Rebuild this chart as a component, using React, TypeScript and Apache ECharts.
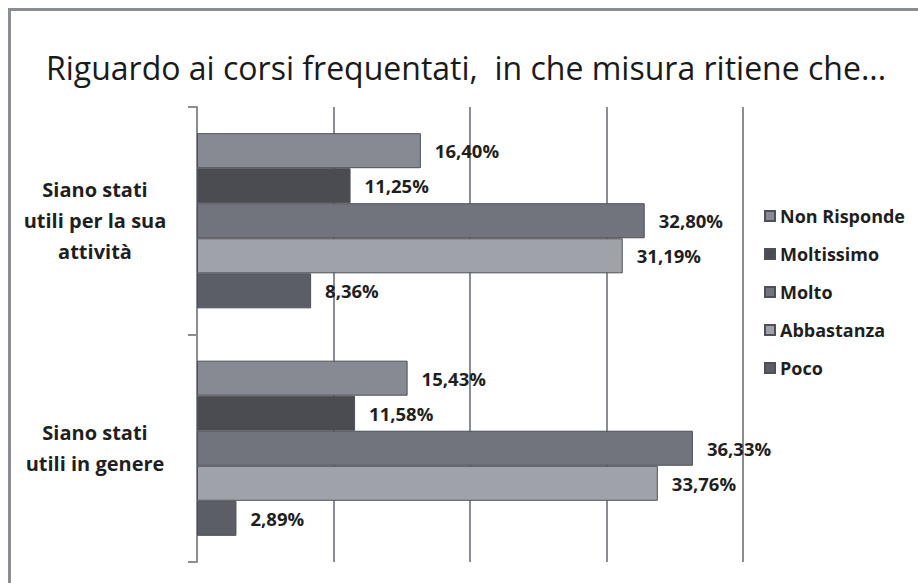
import React, { useEffect, useRef } from "react";
import * as echarts from "echarts";

const titleText = "Riguardo ai corsi frequentati,  in che misura ritiene che...";
const categories = [
  "Siano stati\nutili per la sua\nattività",
  "Siano stati\nutili in genere",
];
const seriesNames = ["Non Risponde", "Moltissimo", "Molto", "Abbastanza", "Poco"];
const nonRisponde = [16.4, 15.43];
const moltissimo = [11.25, 11.58];
const molto = [32.8, 36.33];
const abbastanza = [31.19, 33.76];
const poco = [8.36, 2.89];
const seriesValues = [nonRisponde, moltissimo, molto, abbastanza, poco];
const seriesColors = ["#878a93", "#4a4c51", "#72747d", "#a0a2a9", "#5b5e65"];

const FONT = "Open Sans";

export default function App() {
  const ref = useRef<HTMLDivElement>(null);
  useEffect(() => {
    document.body.style.margin = "0";
    const chart = echarts.init(ref.current!, null, { renderer: "svg" });
    const series = seriesNames.map((name, i) => ({
      name,
      type: "bar",
      data: seriesValues[i],
      barGap: "0%",
      barCategoryGap: "23%",
      itemStyle: { color: seriesColors[i], borderColor: "#4e5057", borderWidth: 1 },
      label: {
        show: true,
        position: "right",
        distance: 14,
        fontFamily: FONT,
        fontWeight: "bold",
        fontSize: 18.5,
        color: "#1f1f1f",
        formatter: (p: any) => p.value.toFixed(2).replace(".", ",") + "%",
      },
    }));
    chart.setOption({
      animation: false,
      backgroundColor: "#ffffff",
      title: {
        text: titleText,
        left: 41,
        top: 46,
        textStyle: { fontFamily: FONT, fontWeight: "normal", fontSize: 32, color: "#1a1a1a" },
      },
      graphic: [
        {
          type: "rect",
          shape: { x: 9.5, y: 9.5, width: 1000, height: 1000 },
          style: { fill: "none", stroke: "#8a8d96", lineWidth: 3 },
          silent: true,
        },
      ],
      legend: {
        orient: "vertical",
        left: 759,
        top: 202,
        data: seriesNames,
        icon: "rect",
        itemWidth: 10,
        itemHeight: 10,
        itemGap: 20,
        textStyle: { fontFamily: FONT, fontWeight: "bold", fontSize: 18, color: "#1f1f1f", lineHeight: 18 },
      },
      grid: { left: 197, right: 175, top: 107, bottom: 21, containLabel: false },
      xAxis: {
        type: "value",
        min: 0,
        max: 40,
        interval: 10,
        axisLine: { show: false },
        axisTick: { show: false },
        axisLabel: { show: false },
        splitLine: { show: true, lineStyle: { color: "#8a8d96", width: 2 } },
      },
      yAxis: {
        type: "category",
        inverse: true,
        data: categories,
        axisLine: { show: true, lineStyle: { color: "#8a8d96", width: 2 } },
        axisTick: { show: true, length: 9, lineStyle: { color: "#8a8d96", width: 2 } },
        axisLabel: {
          margin: 102,
          align: "center",
          fontFamily: FONT,
          fontWeight: "bold",
          fontSize: 20,
          lineHeight: 31,
          color: "#1f1f1f",
        },
      },
      series,
    });
    return () => chart.dispose();
  }, []);
  return <div ref={ref} style={{ width: 918, height: 583 }} />;
}
